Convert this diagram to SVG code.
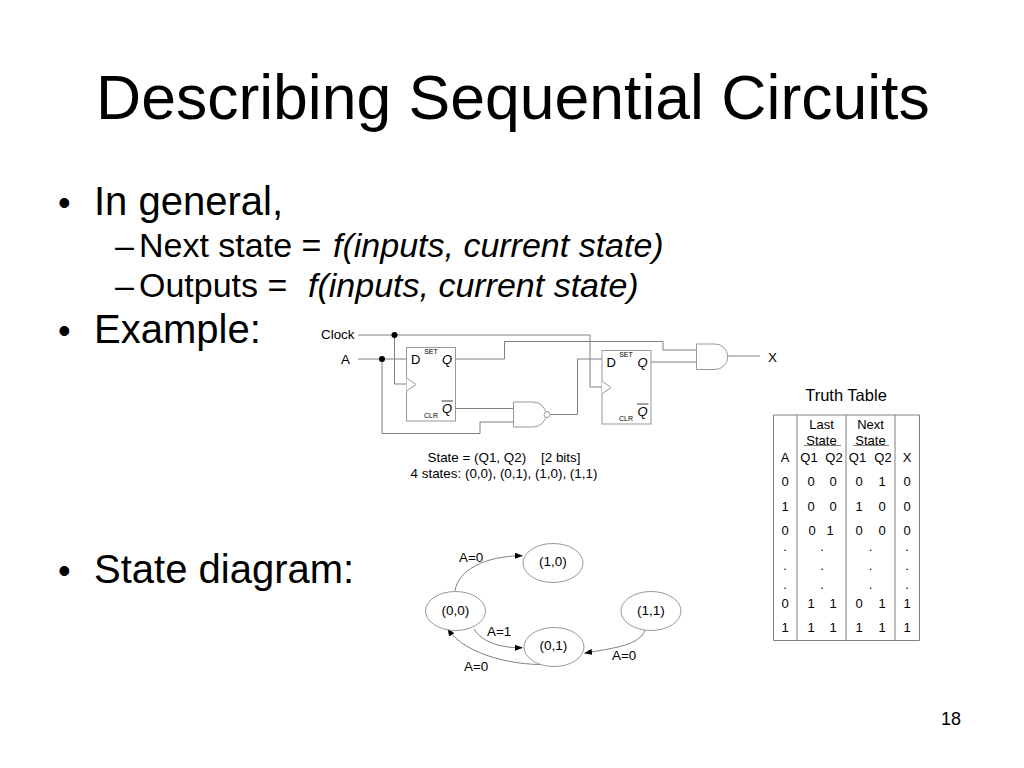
<svg xmlns="http://www.w3.org/2000/svg" width="1024" height="768" viewBox="0 0 1024 768">
<style>
text{font-family:"Liberation Sans",Arial,sans-serif;fill:#000}
.title{font-size:62.5px}
.b0{font-size:36px}
.b1{font-size:40px}
.b2{font-size:34px}
.i{font-style:italic}
.s{font-size:13.400px}
.m{text-anchor:middle}
.d{font-size:13px;text-anchor:middle}
.e{font-size:13.500px;text-anchor:middle}
.ff{font-size:13px}
.tiny{font-size:7px;text-anchor:middle}
.tt{font-size:16.500px;text-anchor:middle}
.n{font-size:18px}
.w{fill:none;stroke:#808080;stroke-width:1}
.g{fill:#fff;stroke:#999;stroke-width:1}
.k{fill:#000}
.l{stroke:#808080;stroke-width:1;fill:none}
.o{stroke:#444;stroke-width:1}
</style>
<defs>
<marker id="ah" markerWidth="8" markerHeight="6" refX="7" refY="3" orient="auto" markerUnits="userSpaceOnUse"><path d="M0,0L8,3L0,6z" fill="#000"/></marker>
</defs>
<rect width="1024" height="768" fill="#fff"/>
<g id="slide-text">
<text class="title" x="96" y="119">Describing Sequential Circuits</text>
<text class="b0" x="58" y="215">•</text><text class="b1" x="94" y="215">In general,</text>
<text class="b2" x="115" y="257">–</text><text class="b2" x="139" y="257">Next state =</text><text class="b2 i" x="333" y="257">f(inputs, current state)</text>
<text class="b2" x="115" y="297">–</text><text class="b2" x="139" y="297">Outputs =</text><text class="b2 i" x="308" y="297">f(inputs, current state)</text>
<text class="b0" x="58" y="343">•</text><text class="b1" x="94" y="343">Example:</text>
<text class="b0" x="58" y="583">•</text><text class="b1" x="94" y="583">State diagram:</text>
<text class="n" x="941" y="725">18</text>
</g>
<g id="connectors">
<path class="w" d="M358 335H590V387H602"/>
<path class="w" d="M394.500 335V384H407"/>
<path class="w" d="M358 359H407"/>
<path class="w" d="M382 359V433.500H480V422H514"/>
<path class="w" d="M456 359H504.500V341.500H663V350H697"/>
<path class="w" d="M456 408.500H514"/>
<path class="w" d="M550 414.500H577.500V359H602"/>
<path class="w" d="M651 362H697"/>
<path class="w" d="M727 356H760"/>
<circle class="k" cx="394.500" cy="335" r="3"/>
<circle class="k" cx="382" cy="359" r="3"/>
<path class="l" marker-end="url(#ah)" d="M455 591C458 570 485 556 522 555.700"/>
<path class="l" marker-end="url(#ah)" d="M474 629C482 642 500 648 522 647.700"/>
<path class="l" marker-end="url(#ah)" d="M552 664C520 667 465 656 448 629"/>
<path class="l" marker-end="url(#ah)" d="M645 630C640 645 615 648 585 653"/>
</g>
<g id="ff1">
<rect class="g" x="406.500" y="347.500" width="49" height="73.500"/>
<path class="g" d="M406.500 378L416 384.500L406.500 391"/>
<text class="ff" x="411" y="364">D</text>
<text class="tiny" x="431" y="354">SET</text>
<text class="ff i" x="442" y="364">Q</text>
<text class="ff i" x="442" y="412.500">Q</text><path class="o" d="M441.500 401H453"/>
<text class="tiny" x="431" y="418">CLR</text>
</g>
<g id="ff2">
<rect class="g" x="602" y="350.500" width="49" height="73.500"/>
<path class="g" d="M602 381L611 387.500L602 394"/>
<text class="ff" x="606.500" y="367">D</text>
<text class="tiny" x="626" y="357">SET</text>
<text class="ff i" x="637.500" y="367">Q</text>
<text class="ff i" x="637.500" y="416">Q</text><path class="o" d="M637 404H648.500"/>
<text class="tiny" x="626" y="420.500">CLR</text>
</g>
<g id="nand">
<path class="g" d="M513.500 402H533A13 12.500 0 0 1 533 427H513.500Z"/>
<circle class="g" cx="547" cy="414.500" r="3"/>
</g>
<g id="and">
<path class="g" d="M696.500 344H715A12.500 12.500 0 0 1 715 369.500H696.500Z"/>
</g>
<g id="circuit-labels">
<text class="s" x="321" y="339">Clock</text>
<text class="s" x="341" y="364">A</text>
<text class="s" x="768" y="362">X</text>
<text class="s m" x="504" y="462" xml:space="preserve">State = (Q1, Q2)    [2 bits]</text>
<text class="s m" x="504" y="478">4 states: (0,0), (0,1), (1,0), (1,1)</text>
</g>
<g id="s10"><ellipse class="g" cx="553" cy="563" rx="30" ry="19.500"/><text class="e" x="553" y="566">(1,0)</text></g>
<g id="s00"><ellipse class="g" cx="455.500" cy="611" rx="30" ry="19.500"/><text class="e" x="455.500" y="615">(0,0)</text></g>
<g id="s01"><ellipse class="g" cx="554" cy="647" rx="30" ry="19.500"/><text class="e" x="553.500" y="650">(0,1)</text></g>
<g id="s11"><ellipse class="g" cx="651" cy="611" rx="30" ry="19.500"/><text class="e" x="651" y="615">(1,1)</text></g>
<g id="edge-labels">
<text class="s" x="459" y="562">A=0</text>
<text class="s" x="487" y="636">A=1</text>
<text class="s" x="464" y="671">A=0</text>
<text class="s" x="612" y="660">A=0</text>
</g>
<g id="truth-table">
<text class="tt" x="846" y="401">Truth Table</text>
<path class="w" d="M773.500 415H919.500V640.500H773.500ZM797 415V640.500M846 415V640.500M895 415V640.500"/>
<path d="M804 445.500H841M853 445.500H889" stroke="#808080" stroke-width="1"/>
<g>
<text class="d" x="821.500" y="429">Last</text><text class="d" x="870.500" y="429">Next</text>
<text class="d" x="821.500" y="445">State</text><text class="d" x="870.500" y="445">State</text>
<text class="d" x="785" y="462">A</text><text class="d" x="809" y="462">Q1</text><text class="d" x="834" y="462">Q2</text><text class="d" x="857.500" y="462">Q1</text><text class="d" x="883" y="462">Q2</text><text class="d" x="907" y="462">X</text>
<text class="d" x="785" y="486">0</text><text class="d" x="811" y="486">0</text><text class="d" x="833" y="486">0</text><text class="d" x="859" y="486">0</text><text class="d" x="882" y="486">1</text><text class="d" x="907" y="486">0</text>
<text class="d" x="785" y="511">1</text><text class="d" x="811" y="511">0</text><text class="d" x="833" y="511">0</text><text class="d" x="859" y="511">1</text><text class="d" x="882" y="511">0</text><text class="d" x="907" y="511">0</text>
<text class="d" x="785" y="535">0</text><text class="d" x="812" y="535">0</text><text class="d" x="830" y="535">1</text><text class="d" x="859" y="535">0</text><text class="d" x="882" y="535">0</text><text class="d" x="907" y="535">0</text>
<text class="d" x="785" y="550.500">.</text><text class="d" x="822" y="550.500">.</text><text class="d" x="870.500" y="550.500">.</text><text class="d" x="907" y="550.500">.</text>
<text class="d" x="785" y="569.500">.</text><text class="d" x="822" y="569.500">.</text><text class="d" x="870.500" y="569.500">.</text><text class="d" x="907" y="569.500">.</text>
<text class="d" x="785" y="589">.</text><text class="d" x="822" y="589">.</text><text class="d" x="870.500" y="589">.</text><text class="d" x="907" y="589">.</text>
<text class="d" x="785" y="608">0</text><text class="d" x="811" y="608">1</text><text class="d" x="833" y="608">1</text><text class="d" x="859" y="608">0</text><text class="d" x="882" y="608">1</text><text class="d" x="907" y="608">1</text>
<text class="d" x="785" y="632">1</text><text class="d" x="811" y="632">1</text><text class="d" x="833" y="632">1</text><text class="d" x="859" y="632">1</text><text class="d" x="882" y="632">1</text><text class="d" x="907" y="632">1</text>
</g>
</g>
</svg>
